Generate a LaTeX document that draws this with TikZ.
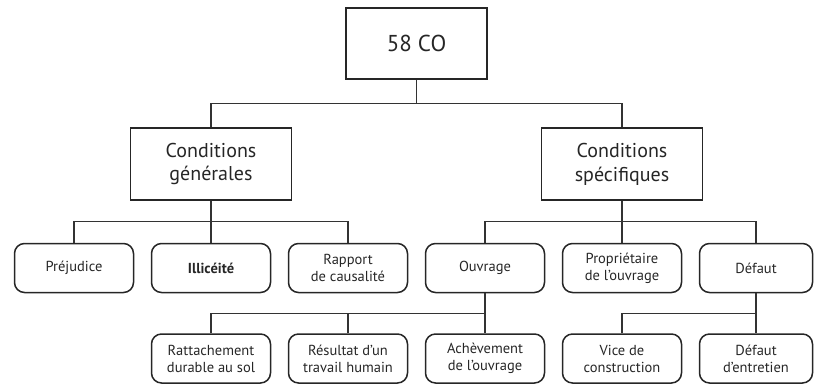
\documentclass[tikz,border=0pt]{standalone}
\usepackage{fontspec}
\setmainfont{PT Sans}
\usepackage{tikz}
\usetikzlibrary{positioning,calc}

\begin{document}
\begin{tikzpicture}[
        x=1pt, y=1pt,
        node distance=16.5pt,
        head/.style={rectangle, draw=black!85, line width=1.5pt, minimum width=141pt, minimum height=71pt, align=center, text=black!85, font=\fontsize{23}{27}\selectfont},
        cond/.style={rectangle, draw=black!85, line width=1.5pt, minimum width=161pt, minimum height=72pt, align=center, text=black!85, font=\fontsize{20}{24}\selectfont},
        leaf/.style={rectangle, draw=black!85, rounded corners=10pt, line width=1.5pt, minimum width=119pt, minimum height=49pt, align=center, text=black!85, font=\fontsize{14.5}{17}\selectfont},
        link/.style={draw=black!80, line width=1.2pt},
    ]
        \useasboundingbox (0,0) rectangle (814,-385);

        \node[leaf] (prej) at (74,-268) {Préjudice};
        \node[leaf, right=of prej] (illi) {\bfseries Illicéité};
        \node[leaf, right=of illi] (rapp) {Rapport\\de causalité};
        \node[leaf, right=of rapp] (ouvr) {Ouvrage};
        \node[leaf, right=of ouvr] (prop) {Propriétaire\\de l’ouvrage};
        \node[leaf, right=of prop, minimum width=113pt] (defa) {Défaut};

        \node[leaf, below=40pt of illi] (ratt) {Rattachement\\durable au sol};
        \node[leaf, below=40pt of rapp] (resu) {Résultat d’un\\travail humain};
        \node[leaf, below=40pt of ouvr] (ache) {Achèvement\\de l’ouvrage};
        \node[leaf, below=40pt of prop] (vice) {Vice de\\construction};
        \node[leaf, below=40pt of defa, minimum width=113pt] (entr) {Défaut\\d’entretien};

        \node[cond, above=42pt of illi] (gen) {Conditions\\générales};
        \node[cond, above=42pt of prop] (spec) {Conditions\\spécifiques};
        \node[head] (co) at ($(gen)!0.5!(spec)+(0,120.5)$) {58 CO};

        \draw[link] (co.south) -- ++(0,-24) coordinate (b1);
        \draw[link] (gen.north) |- (b1) -| (spec.north);

        \draw[link] (gen.south) -- (illi.north);
        \draw[link] (prej.north) |- ($(gen.south)+(0,-21)$) -| (rapp.north);
        \draw[link] (spec.south) -- (prop.north);
        \draw[link] (ouvr.north) |- ($(spec.south)+(0,-21)$) -| (defa.north);

        \coordinate (b3) at ($(ouvr.south)+(0,-20)$);
        \draw[link] (ouvr.south) -- (ache.north);
        \draw[link] (ratt.north) |- (b3);
        \draw[link] (resu.north) -- (resu.north |- b3);
        \draw[link] (defa.south) -- (entr.north);
        \draw[link] (vice.north) |- (defa.south |- b3);

    \end{tikzpicture}
\end{document}
